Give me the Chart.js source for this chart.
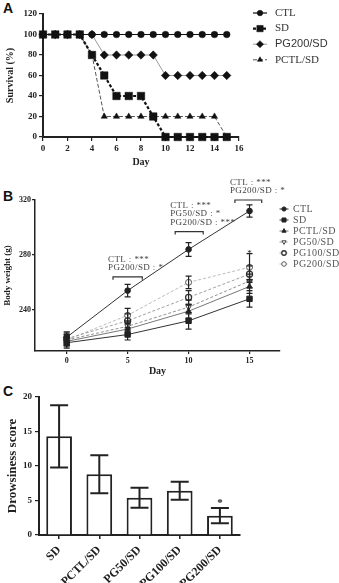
<!DOCTYPE html>
<html>
<head>
<meta charset="utf-8">
<script src="https://cdn.jsdelivr.net/npm/chart.js@4.4.1/dist/chart.umd.min.js"></script>
<style>
  body { margin: 0; background: #fff; width: 339px; height: 583px; overflow: hidden; position: relative; }
  .panel { position: absolute; left: 0; }
  .tag { position: absolute; left: 3px; font: bold 14px "Liberation Sans", Arial, sans-serif; color: #111; }
</style>
</head>
<body>
<div class="tag" style="top:0px">A</div>
<div class="tag" style="top:188px">B</div>
<div class="tag" style="top:383px">C</div>
<canvas id="cA" class="panel" style="top:0px" width="339" height="172"></canvas>
<canvas id="cB" class="panel" style="top:176px" width="339" height="204"></canvas>
<canvas id="cC" class="panel" style="top:383px" width="339" height="200"></canvas>
<script>
// ---- A: survival ----
const survDays  = [0, 1, 2, 3, 4, 5, 6, 7, 8, 9, 10, 11, 12, 13, 14, 15];
const survCTL   = [100, 100, 100, 100, 100, 100, 100, 100, 100, 100, 100, 100, 100, 100, 100, 100];
const survSD    = [100, 100, 100, 100, 80, 60, 40, 40, 40, 20, 0, 0, 0, 0, 0, 0];
const survPG200 = [100, 100, 100, 100, 100, 80, 80, 80, 80, 80, 60, 60, 60, 60, 60, 60];
const survPCTL  = [100, 100, 100, 100, 80, 20, 20, 20, 20, 20, 20, 20, 20, 20, 20, 0];
const survXTicks = [0, 2, 4, 6, 8, 10, 12, 14, 16];
const survYTicks = [0, 20, 40, 60, 80, 100, 120];

// ---- B: body weight ----
const bwDays = [0, 5, 10, 15];
const bwCTL   = [220, 254, 284, 312];  const bwCTLErr   = [4, 4.5, 5, 4.5];
const bwSD    = [216, 222, 232, 248];  const bwSDErr    = [4, 4, 6, 6];
const bwPCTL  = [217, 226, 239, 257];  const bwPCTLErr  = [4, 4, 5, 5];
const bwPG50  = [218, 228, 242, 261];  const bwPG50Err  = [4, 4, 5, 5];
const bwPG100 = [219, 232, 249, 266];  const bwPG100Err = [4, 5, 5, 6];
const bwPG200 = [218, 236, 260, 271];  const bwPG200Err = [4, 5, 4.5, 10];
const bwPG200Sig = ['', '', '', '*'];
const bwXTicks = [0, 5, 10, 15];
const bwYTicks = [240, 280, 320];
const bwBrackets = [
  { from: 3.8,  to: 6.2,  y: 264, lines: ['CTL : ***', 'PG200/SD : *'] },
  { from: 8.9,  to: 11.2, y: 297, lines: ['CTL : ***', 'PG50/SD : *', 'PG200/SD : ***'] },
  { from: 13.8, to: 16.0, y: 320, lines: ['CTL : ***', 'PG200/SD : *'] }
];

// ---- C: drowsiness ----
const drowsGroups = ['SD', 'PCTL/SD', 'PG50/SD', 'PG100/SD', 'PG200/SD'];
const drowsMean = [14.3, 8.8, 5.4, 6.4, 2.8];
const drowsErr  = [4.5, 2.75, 1.45, 1.3, 1.1];
const drowsSig  = ['', '', '', '', '*'];
const drowsYTicks = [0, 5, 10, 15, 20];

const SERIF = '"Liberation Serif", "Times New Roman", serif';
Chart.defaults.font.family = SERIF;
Chart.defaults.color = '#222';

const pts = (xs, ys) => xs.map((x, i) => ({ x: x, y: ys[i] }));
const fixTicks = arr => s => { s.ticks = arr.map(v => ({ value: v })); };

// small marker painter for the side legends
function marker(ctx, style, r, rot, x, y) {
  ctx.beginPath();
  if (style === 'circle') {
    ctx.arc(x, y, r, 0, Math.PI * 2);
  } else if (style === 'rect') {
    const s = r * Math.SQRT1_2;
    ctx.rect(x - s, y - s, 2 * s, 2 * s);
  } else if (style === 'rectRot') {
    ctx.moveTo(x, y - r); ctx.lineTo(x + r, y); ctx.lineTo(x, y + r); ctx.lineTo(x - r, y); ctx.closePath();
  } else if (style === 'triangle') {
    const a = (rot || 0) * Math.PI / 180;
    for (let k = 0; k < 3; k++) {
      const t = a + k * 2 * Math.PI / 3;
      const px = x + Math.sin(t) * r, py = y - Math.cos(t) * r;
      if (k === 0) ctx.moveTo(px, py); else ctx.lineTo(px, py);
    }
    ctx.closePath();
  }
  ctx.fill();
  ctx.stroke();
}

const sideLegend = {
  id: 'sideLegend',
  afterDraw(chart, args, o) {
    if (!o || o.x === undefined) return;
    const ctx = chart.ctx;
    chart.data.datasets.forEach((ds, i) => {
      const y = o.y + i * o.dy;
      ctx.save();
      ctx.strokeStyle = ds.borderColor;
      ctx.lineWidth = ds.borderWidth;
      ctx.setLineDash(ds.borderDash || []);
      ctx.beginPath();
      ctx.moveTo(o.x - o.len / 2, y);
      ctx.lineTo(o.x + o.len / 2, y);
      ctx.stroke();
      ctx.setLineDash([]);
      ctx.fillStyle = ds.pointBackgroundColor;
      ctx.strokeStyle = ds.pointBorderColor;
      ctx.lineWidth = ds.pointBorderWidth || 1;
      marker(ctx, ds.pointStyle, ds.pointRadius * (o.mscale || 1), ds.pointRotation, o.x, y);
      ctx.fillStyle = o.color;
      ctx.font = ds.legendFont || o.font;
      ctx.letterSpacing = o.spacing || '0px';
      ctx.textBaseline = 'middle';
      ctx.fillText(ds.label, o.textX, y);
      ctx.restore();
    });
  }
};

const errorBars = {
  id: 'errorBars',
  afterDatasetsDraw(chart, args, o) {
    const ctx = chart.ctx, ys = chart.scales.y;
    chart.data.datasets.forEach((ds, i) => {
      if (!ds.errors) return;
      const meta = chart.getDatasetMeta(i);
      meta.data.forEach((el, j) => {
        const raw = ds.data[j];
        const v = typeof raw === 'object' ? raw.y : raw;
        const e = ds.errors[j];
        const top = ys.getPixelForValue(v + e), bot = ys.getPixelForValue(v - e);
        ctx.save();
        ctx.strokeStyle = o.color || '#222';
        ctx.lineWidth = o.width || 1;
        ctx.beginPath();
        ctx.moveTo(el.x, top); ctx.lineTo(el.x, bot);
        ctx.moveTo(el.x - o.cap, top); ctx.lineTo(el.x + o.cap, top);
        ctx.moveTo(el.x - o.cap, bot); ctx.lineTo(el.x + o.cap, bot);
        ctx.stroke();
        if (ds.sig && ds.sig[j]) {
          ctx.fillStyle = '#222';
          ctx.font = o.sigFont;
          ctx.textAlign = 'center';
          ctx.textBaseline = 'alphabetic';
          ctx.fillText(ds.sig[j], el.x, top + o.sigOffset);
        }
        ctx.restore();
      });
    });
  }
};

const brackets = {
  id: 'brackets',
  afterDraw(chart, args, o) {
    if (!o || !o.items) return;
    const ctx = chart.ctx, xs = chart.scales.x, ys = chart.scales.y;
    ctx.save();
    o.items.forEach(b => {
      const x1 = xs.getPixelForValue(b.from), x2 = xs.getPixelForValue(b.to), yy = ys.getPixelForValue(b.y);
      ctx.strokeStyle = '#333';
      ctx.lineWidth = 1.2;
      ctx.beginPath();
      ctx.moveTo(x1, yy + 3); ctx.lineTo(x1, yy); ctx.lineTo(x2, yy); ctx.lineTo(x2, yy + 3);
      ctx.stroke();
      ctx.fillStyle = '#444';
      ctx.font = '9px ' + SERIF;
      ctx.letterSpacing = '0.4px';
      ctx.textBaseline = 'middle';
      const n = b.lines.length;
      b.lines.forEach((t, k) => ctx.fillText(t, x1 - 5, yy - 9 - (n - 1 - k) * 8.5));
    });
    ctx.restore();
  }
};

function axisStyle(tickLen, borderW) {
  return {
    grid: { drawOnChartArea: false, tickLength: tickLen, color: '#222', lineWidth: 1.2 },
    border: { color: '#222', width: borderW }
  };
}

// ---------- A ----------
new Chart(document.getElementById('cA'), {
  type: 'line',
  data: {
    datasets: [
      { label: 'CTL', data: pts(survDays, survCTL), borderColor: '#111', borderWidth: 1.2,
        pointStyle: 'circle', pointRadius: 3.3, pointBackgroundColor: '#111', pointBorderColor: '#111', pointBorderWidth: 0.5, clip: false },
      { label: 'SD', data: pts(survDays, survSD), borderColor: '#111', borderWidth: 2.2, borderDash: [3, 2],
        pointStyle: 'rect', pointRadius: 5.3, pointBackgroundColor: '#111', pointBorderColor: '#111', pointBorderWidth: 0.5, clip: false },
      { label: 'PG200/SD', data: pts(survDays, survPG200), borderColor: '#999', borderWidth: 1,
        pointStyle: 'rectRot', pointRadius: 4.2, pointBackgroundColor: '#111', pointBorderColor: '#111', pointBorderWidth: 0.5, clip: false,
        legendFont: '11px "Liberation Sans", Arial, sans-serif' },
      { label: 'PCTL/SD', data: pts(survDays, survPCTL), borderColor: '#555', borderWidth: 1, borderDash: [4, 2],
        pointStyle: 'triangle', pointRadius: 3.6, pointBackgroundColor: '#111', pointBorderColor: '#111', pointBorderWidth: 0.5, clip: false }
    ]
  },
  options: {
    responsive: false, animation: false, events: [],
    layout: { padding: { top: 14, right: 100, left: 0, bottom: 0 } },
    plugins: {
      legend: { display: false }, tooltip: { enabled: false },
      sideLegend: { x: 260, len: 14, textX: 275, y: 13, dy: 15.6, font: '11px ' + SERIF, color: '#333', mscale: 0.85 }
    },
    scales: {
      x: Object.assign({
        type: 'linear', min: 0, max: 16,
        afterBuildTicks: fixTicks(survXTicks),
        afterFit: s => { s.height = 35; },
        ticks: { font: { size: 9, weight: 'bold' }, padding: 2 },
        title: { display: true, text: 'Day', font: { size: 10, weight: 'bold' }, padding: { top: 0, bottom: 4 } }
      }, axisStyle(4, 2)),
      y: Object.assign({
        min: 0, max: 120,
        afterBuildTicks: fixTicks(survYTicks),
        afterFit: s => { s.width = 43; },
        ticks: { font: { size: 9, weight: 'bold' }, padding: 2 },
        title: { display: true, text: 'Survival (%)', font: { size: 10, weight: 'bold' }, padding: { top: 4, bottom: 0 } }
      }, axisStyle(4, 2))
    }
  },
  plugins: [sideLegend]
});

// ---------- B ----------
const bwSets = [
  { label: 'CTL', data: pts(bwDays, bwCTL), errors: bwCTLErr, borderColor: '#333', borderWidth: 1,
    pointStyle: 'circle', pointRadius: 2.8, pointBackgroundColor: '#222', pointBorderColor: '#222' },
  { label: 'SD', data: pts(bwDays, bwSD), errors: bwSDErr, borderColor: '#333', borderWidth: 1,
    pointStyle: 'rect', pointRadius: 3.8, pointBackgroundColor: '#222', pointBorderColor: '#222' },
  { label: 'PCTL/SD', data: pts(bwDays, bwPCTL), errors: bwPCTLErr, borderColor: '#555', borderWidth: 0.8,
    pointStyle: 'triangle', pointRadius: 3.2, pointBackgroundColor: '#222', pointBorderColor: '#222' },
  { label: 'PG50/SD', data: pts(bwDays, bwPG50), errors: bwPG50Err, borderColor: '#777', borderWidth: 0.8, borderDash: [3, 2],
    pointStyle: 'triangle', pointRotation: 180, pointRadius: 3.2, pointBackgroundColor: '#fff', pointBorderColor: '#444', pointBorderWidth: 1 },
  { label: 'PG100/SD', data: pts(bwDays, bwPG100), errors: bwPG100Err, borderColor: '#888', borderWidth: 0.8, borderDash: [3, 2],
    pointStyle: 'circle', pointRadius: 3, pointBackgroundColor: '#fff', pointBorderColor: '#333', pointBorderWidth: 1.3 },
  { label: 'PG200/SD', data: pts(bwDays, bwPG200), errors: bwPG200Err, sig: bwPG200Sig, borderColor: '#aaa', borderWidth: 0.8, borderDash: [3, 2],
    pointStyle: 'circle', pointRadius: 3, pointBackgroundColor: '#fff', pointBorderColor: '#555', pointBorderWidth: 1 }
];
bwSets.forEach(d => { d.clip = false; });

new Chart(document.getElementById('cB'), {
  type: 'line',
  data: { datasets: bwSets },
  options: {
    responsive: false, animation: false, events: [],
    layout: { padding: { top: 24, right: 59, left: 0, bottom: 0 } },
    plugins: {
      legend: { display: false }, tooltip: { enabled: false },
      sideLegend: { x: 284, len: 9, textX: 293, y: 33, dy: 11, font: '10px ' + SERIF, color: '#555', spacing: '0.4px', mscale: 0.75 },
      errorBars: { cap: 3, width: 1.2, color: '#222', sigFont: '9px ' + SERIF, sigOffset: 2 },
      brackets: { items: bwBrackets }
    },
    scales: {
      x: Object.assign({
        type: 'linear', min: -2.6, max: 17.5,
        afterBuildTicks: fixTicks(bwXTicks),
        afterFit: s => { s.height = 29; },
        ticks: { font: { size: 8, weight: 'bold' }, padding: 2 },
        title: { display: true, text: 'Day', font: { size: 10, weight: 'bold' }, padding: { top: 0, bottom: 3 } }
      }, axisStyle(3, 1.5)),
      y: Object.assign({
        min: 210, max: 320,
        afterBuildTicks: fixTicks(bwYTicks),
        afterFit: s => { s.width = 35; },
        ticks: { font: { size: 8, weight: 'bold' }, padding: 1 },
        title: { display: true, text: 'Body weight (g)', font: { size: 9, weight: 'bold' }, padding: { top: 2, bottom: 0 } }
      }, axisStyle(3, 1.5))
    }
  },
  plugins: [sideLegend, errorBars, brackets]
});

// ---------- C ----------
new Chart(document.getElementById('cC'), {
  type: 'bar',
  data: {
    labels: drowsGroups,
    datasets: [{ label: 'Drowsiness score', data: drowsMean, errors: drowsErr, sig: drowsSig,
      backgroundColor: '#fff', borderColor: '#222', borderWidth: 2, barPercentage: 0.8, categoryPercentage: 0.8 }]
  },
  options: {
    responsive: false, animation: false, events: [],
    layout: { padding: { top: 14, right: 99, left: 0, bottom: 0 } },
    plugins: {
      legend: { display: false }, tooltip: { enabled: false },
      errorBars: { cap: 9, width: 2, color: '#222', sigFont: 'bold 11px ' + SERIF, sigOffset: -2 }
    },
    scales: {
      x: {
        afterFit: s => { s.height = 48; },
        ticks: { font: { size: 12, weight: 'bold' }, minRotation: 45, maxRotation: 45, padding: 4 },
        grid: { offset: false, drawOnChartArea: false, tickLength: 4, color: '#222', lineWidth: 1.5 },
        border: { color: '#222', width: 2 }
      },
      y: Object.assign({
        min: 0, max: 20,
        afterBuildTicks: fixTicks(drowsYTicks),
        afterFit: s => { s.width = 39; },
        ticks: { font: { size: 9, weight: 'bold' }, padding: 3 },
        title: { display: true, text: 'Drowsiness score', font: { size: 13, weight: 'bold' }, padding: { top: 5, bottom: 0 } }
      }, axisStyle(4, 2))
    }
  },
  plugins: [errorBars]
});
</script>
</body>
</html>
